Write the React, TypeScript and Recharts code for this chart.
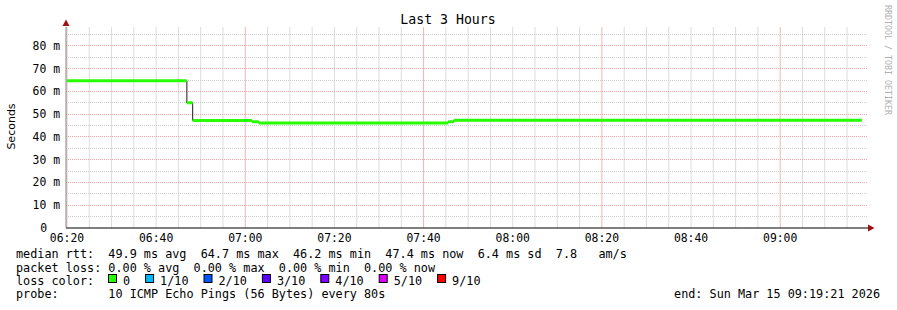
import { ComposedChart, Line, ReferenceLine, XAxis, YAxis } from "recharts";

// minutes after 06:20, one entry per constant step of the median
const stepStart = [0, 26.9, 28.2, 41.5, 43.0, 85.5, 86.8];
const stepEnd = [26.9, 28.2, 41.5, 43.0, 85.5, 86.8, 178.3];
const stepMedian = [64.7, 55.0, 47.3, 46.7, 46.2, 46.7, 47.4]; // ms

const timeTicks = [0, 20, 40, 60, 80, 100, 120, 140, 160];
const timeLabels = ["06:20", "06:40", "07:00", "07:20", "07:40", "08:00", "08:20", "08:40", "09:00"];
const valueTicks = [0, 10, 20, 30, 40, 50, 60, 70, 80];
const valueLabels = ["0", "10 m", "20 m", "30 m", "40 m", "50 m", "60 m", "70 m", "80 m"];

const majorTimes = [0, 40, 80, 120, 160];
const minorTimes = [5, 10, 15, 20, 25, 30, 35, 45, 50, 55, 60, 65, 70, 75, 85, 90, 95, 100, 105, 110, 115, 125, 130, 135, 140, 145, 150, 155, 165, 170, 175];
const majorValues = [10, 20, 30, 40, 50, 60, 70, 80];
const minorValues = [5, 15, 25, 35, 45, 55, 65, 75, 85];

const lossLabels = ["0", "1/10", "2/10", "3/10", "4/10", "5/10", "9/10"];
const lossColors = ["#26ff00", "#00b8ff", "#0059ff", "#5e00ff", "#7e00ff", "#dd00ff", "#ff0000"];

const rtt = { avg: "49.9", max: "64.7", min: "46.2", now: "47.4", sd: "6.4", amps: "7.8" };
const loss = { avg: "0.00", max: "0.00", min: "0.00", now: "0.00" };
const probeText = "10 ICMP Echo Pings (56 Bytes) every 80s";
const endText = "end: Sun Mar 15 09:19:21 2026";

const X_MIN = -0.22;
const X_MAX = 179.7;
const Y_MAX = 88.35;

const MONO = "'DejaVu Sans Mono', monospace";
const pre = (s: string) => s.replace(/ /g, "\u00a0");

const greenData = stepStart.flatMap((s, i) => [
  { t: s, g: stepMedian[i] },
  { t: stepEnd[i], g: stepMedian[i] },
  { t: stepEnd[i], g: null },
]);
const stairData = [
  ...stepStart.map((s, i) => ({ t: s, v: stepMedian[i] })),
  { t: stepEnd[stepEnd.length - 1], v: stepMedian[stepMedian.length - 1] },
];

function TimeTick({ x, y, payload }: any) {
  const i = timeTicks.indexOf(payload.value);
  return (
    <text x={x} y={y + 14} textAnchor="middle" fontFamily={MONO} fontSize={11.4} fill="#000">
      {timeLabels[i]}
    </text>
  );
}

function ValueTick({ x, y, payload }: any) {
  const i = valueTicks.indexOf(payload.value);
  const dx = payload.value === 0 ? -19 : -6;
  return (
    <text x={x + dx} y={y + 4} textAnchor="end" fontFamily={MONO} fontSize={11.4} fill="#000">
      {pre(valueLabels[i])}
    </text>
  );
}

function Overlay() {
  const line1 = `median rtt:  ${rtt.avg} ms avg  ${rtt.max} ms max  ${rtt.min} ms min  ${rtt.now} ms now  ${rtt.sd} ms sd  ${rtt.amps}   am/s`;
  const line2 = `packet loss: ${loss.avg} % avg  ${loss.max} % max  ${loss.min} % min  ${loss.now} % now`;
  let bx = 108;
  const boxes = lossLabels.map((label, i) => {
    const x = bx;
    bx += 15 + label.length * 7.1 + 15;
    return (
      <g key={label}>
        <rect x={x + 0.5} y={274.5} width={8} height={8} fill={lossColors[i]} stroke="#000" strokeWidth={1} />
        <text x={x + 15} y={284.5} fontFamily={MONO} fontSize={11.8} fill="#000">
          {label}
        </text>
      </g>
    );
  });
  return (
    <svg
      width={897}
      height={310}
      style={{ position: "absolute", left: 0, top: 0, pointerEvents: "none" }}
    >
      <text x={448} y={24} textAnchor="middle" fontFamily={MONO} fontSize={13.2} fill="#000">
        {pre("Last 3 Hours")}
      </text>
      <text
        x={15}
        y={126.5}
        transform="rotate(-90 15 126.5)"
        textAnchor="middle"
        fontFamily="'DejaVu Sans', sans-serif"
        fontSize={11}
        fill="#000"
      >
        Seconds
      </text>
      <text
        x={885}
        y={5}
        transform="rotate(90 885 5)"
        fontFamily={MONO}
        fontSize={8.3}
        fill="#b0b0b0"
      >
        {pre("RRDTOOL / TOBI OETIKER")}
      </text>
      <polygon points="62.5,26 69.5,26 66,19.5" fill="#a01010" />
      <polygon points="868,224.5 868,231.5 874.5,228" fill="#a01010" />
      <g fontFamily={MONO} fontSize={11.8} fill="#000">
        <text x={16} y={258}>{pre(line1)}</text>
        <text x={16} y={271.5}>{pre(line2)}</text>
        <text x={16} y={284.5}>{pre("loss color:")}</text>
        <text x={16} y={298}>{pre(`probe:       ${probeText}`)}</text>
        <text x={880} y={298} textAnchor="end">{pre(endText)}</text>
      </g>
      {boxes}
    </svg>
  );
}

export default function App() {
  return (
    <div style={{ position: "relative", width: 897, height: 310, background: "#fff" }}>
      <style>{"body{margin:0}"}</style>
      <ComposedChart width={897} height={310} margin={{ top: 27, right: 29, bottom: 62, left: 0 }}>
        <XAxis
          type="number"
          dataKey="t"
          domain={[X_MIN, X_MAX]}
          allowDataOverflow
          ticks={timeTicks}
          interval={0}
          tick={<TimeTick />}
          tickLine={false}
          tickSize={0}
          tickMargin={0}
          height={20}
          axisLine={{ stroke: "#000", strokeWidth: 1 }}
        />
        <YAxis
          type="number"
          domain={[0, Y_MAX]}
          allowDataOverflow
          ticks={valueTicks}
          interval={0}
          tick={<ValueTick />}
          tickLine={false}
          tickSize={0}
          tickMargin={0}
          width={66}
          axisLine={{ stroke: "#888", strokeWidth: 1 }}
        />
        {minorTimes.map((t) => (
          <ReferenceLine key={`mx${t}`} x={t} stroke="#dcdcdc" strokeWidth={1} />
        ))}
        {majorTimes.map((t) => (
          <ReferenceLine key={`Mx${t}`} x={t} stroke="#f2b4b4" strokeWidth={1} />
        ))}
        {minorValues.map((v) => (
          <ReferenceLine key={`my${v}`} y={v} stroke="#cfcfcf" strokeDasharray="1 1" shapeRendering="crispEdges" />
        ))}
        {majorValues.map((v) => (
          <ReferenceLine key={`My${v}`} y={v} stroke="#eaa8a8" strokeDasharray="1 1" shapeRendering="crispEdges" />
        ))}
        <Line
          data={stairData}
          dataKey="v"
          type="stepAfter"
          stroke="#1a1a1a"
          strokeWidth={1}
          dot={false}
          activeDot={false}
          isAnimationActive={false}
        />
        <Line
          data={greenData}
          dataKey="g"
          type="linear"
          stroke="#26ff00"
          strokeWidth={3}
          dot={false}
          activeDot={false}
          connectNulls={false}
          isAnimationActive={false}
        />
      </ComposedChart>
      <Overlay />
    </div>
  );
}
